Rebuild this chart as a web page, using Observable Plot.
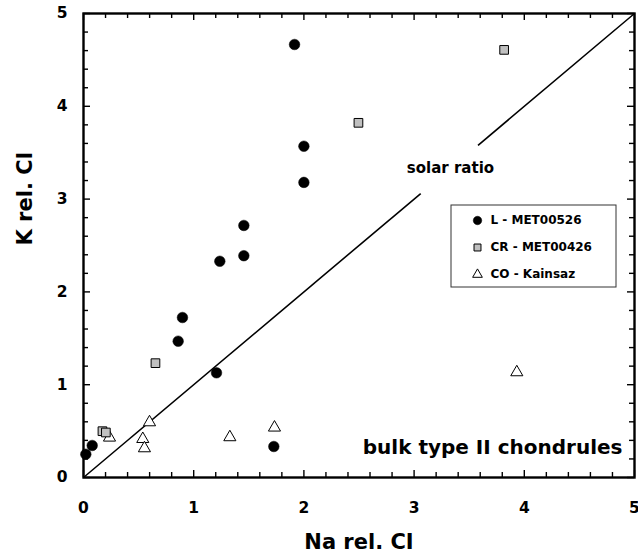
<!DOCTYPE html>
<html>
<head>
<meta charset="utf-8">
<script src="https://cdn.jsdelivr.net/npm/d3@7"></script>
<script src="https://cdn.jsdelivr.net/npm/@observablehq/plot@0.6"></script>
<style>
  html, body { margin: 0; padding: 0; background: #fff; }
  #chart { width: 638px; height: 555px; }
  #chart svg text { font-weight: bold; }
</style>
</head>
<body>
<div id="chart"></div>
<script>
// L - MET00526 (filled circles)
const L_na = [1.915, 2.00, 2.00, 1.455, 1.455, 1.237, 0.898, 0.859, 1.207, 0.079, 0.021, 1.727];
const L_k  = [4.666, 3.57, 3.18, 2.716, 2.39, 2.33, 1.724, 1.469, 1.128, 0.345, 0.251, 0.334];
// CR - MET00426 (grey squares)
const CR_na = [3.817, 2.495, 0.653, 0.172, 0.203];
const CR_k  = [4.608, 3.822, 1.232, 0.499, 0.485];
// CO - Kainsaz (open triangles)
const CO_na = [0.236, 0.599, 0.538, 0.553, 1.328, 1.733, 3.932];
const CO_k  = [0.43, 0.595, 0.415, 0.315, 0.434, 0.538, 1.134];
// solar ratio line (K = Na), broken around the label
const solarSegments = [[0, 3.06], [3.58, 5]];
const solarLabel = {x: 3.33, y: 3.33, text: "solar ratio"};
const majorTicks = [0, 1, 2, 3, 4, 5];
const minorTicks = d3.range(0, 26).map(i => i / 5).filter(v => !majorTicks.includes(v));
const xLabel = "Na rel. CI";
const yLabel = "K rel. CI";
const cornerNote = "bulk type II chondrules";
const legendItems = [
  {name: "L - MET00526", symbol: "circle"},
  {name: "CR - MET00426", symbol: "square"},
  {name: "CO - Kainsaz", symbol: "triangle"}
];

const toPts = (xs, ys) => xs.map((x, i) => ({x, y: ys[i]}));
const L = toPts(L_na, L_k), CR = toPts(CR_na, CR_k), CO = toPts(CO_na, CO_k);

const W = 638, H = 555, mL = 83, mT = 13, mR = 4, mB = 78;
const plotH = H - mT - mB, plotW = W - mL - mR;
const font = "'DejaVu Sans', Verdana, sans-serif";

const styleFor = {
  circle: {fill: "black", stroke: "black", r: 5.3, strokeWidth: 0.5},
  square: {fill: "#c0c0c0", stroke: "black", r: 4.9, strokeWidth: 1},
  triangle: {fill: "white", stroke: "black", r: 4.5, strokeWidth: 1}
};

const tickMarks = (vals, len) => [
  Plot.ruleX(vals, {x: d => d, insetTop: plotH - len, stroke: "black", strokeWidth: 1.4}),
  Plot.ruleX(vals, {x: d => d, insetBottom: plotH - len, stroke: "black", strokeWidth: 1.4}),
  Plot.ruleY(vals, {y: d => d, insetRight: plotW - len, stroke: "black", strokeWidth: 1.4}),
  Plot.ruleY(vals, {y: d => d, insetLeft: plotW - len, stroke: "black", strokeWidth: 1.4})
];

const legendMarks = [];
legendItems.forEach((it, i) => {
  const s = styleFor[it.symbol];
  legendMarks.push(Plot.dot([0], {frameAnchor: "top-left", dx: 394, dy: 207 + 27 * i,
    symbol: it.symbol, r: s.r * 0.8, fill: s.fill, stroke: s.stroke, strokeWidth: s.strokeWidth}));
  legendMarks.push(Plot.text([it.name], {frameAnchor: "top-left", dx: 407, dy: 207 + 27 * i,
    text: d => d, textAnchor: "start", lineAnchor: "middle", fontSize: 12, fontWeight: "bold", fill: "black"}));
});

const chart = Plot.plot({
  width: W, height: H,
  marginLeft: mL, marginTop: mT, marginRight: mR, marginBottom: mB,
  style: {fontFamily: font, fontWeight: "bold", background: "white", color: "black", overflow: "visible"},
  x: {domain: [0, 5]},
  y: {domain: [0, 5]},
  marks: [
    Plot.link(solarSegments, {x1: d => d[0], y1: d => d[0], x2: d => d[1], y2: d => d[1], stroke: "black", strokeWidth: 1.6}),
    Plot.text([solarLabel], {x: "x", y: "y", text: "text", fontSize: 15, fontWeight: "bold", fill: "black"}),
    ...tickMarks(minorTicks, 5),
    ...tickMarks(majorTicks, 7),
    Plot.frame({stroke: "black", strokeWidth: 2.4}),
    Plot.axisX(majorTicks, {tickSize: 0, tickPadding: 24, fontSize: 15.5, fontWeight: "bold", label: null, tickFormat: d3.format("d")}),
    Plot.axisY(majorTicks, {tickSize: 0, tickPadding: 16, fontSize: 15.5, fontWeight: "bold", label: null, tickFormat: d3.format("d")}),
    Plot.text([xLabel], {frameAnchor: "bottom", dy: 71, text: d => d, fontSize: 21, fontWeight: "bold", fill: "black"}),
    Plot.text([yLabel], {frameAnchor: "left", dx: -58, text: d => d, rotate: -90, fontSize: 21, fontWeight: "bold", fill: "black"}),
    Plot.text([cornerNote], {frameAnchor: "bottom-right", dx: -12, dy: -24, text: d => d, textAnchor: "end", fontSize: 20, fontWeight: "bold", fill: "black"}),
    Plot.rect([0], {insetLeft: 368, insetRight: 18, insetTop: 192, insetBottom: 190, fill: "white", stroke: "#333", strokeWidth: 1}),
    ...legendMarks,
    Plot.dot(CO, {x: "x", y: "y", symbol: "triangle", ...styleFor.triangle}),
    Plot.dot(CR, {x: "x", y: "y", symbol: "square", ...styleFor.square}),
    Plot.dot(L, {x: "x", y: "y", symbol: "circle", ...styleFor.circle})
  ]
});
document.getElementById("chart").appendChild(chart);
</script>
</body>
</html>
